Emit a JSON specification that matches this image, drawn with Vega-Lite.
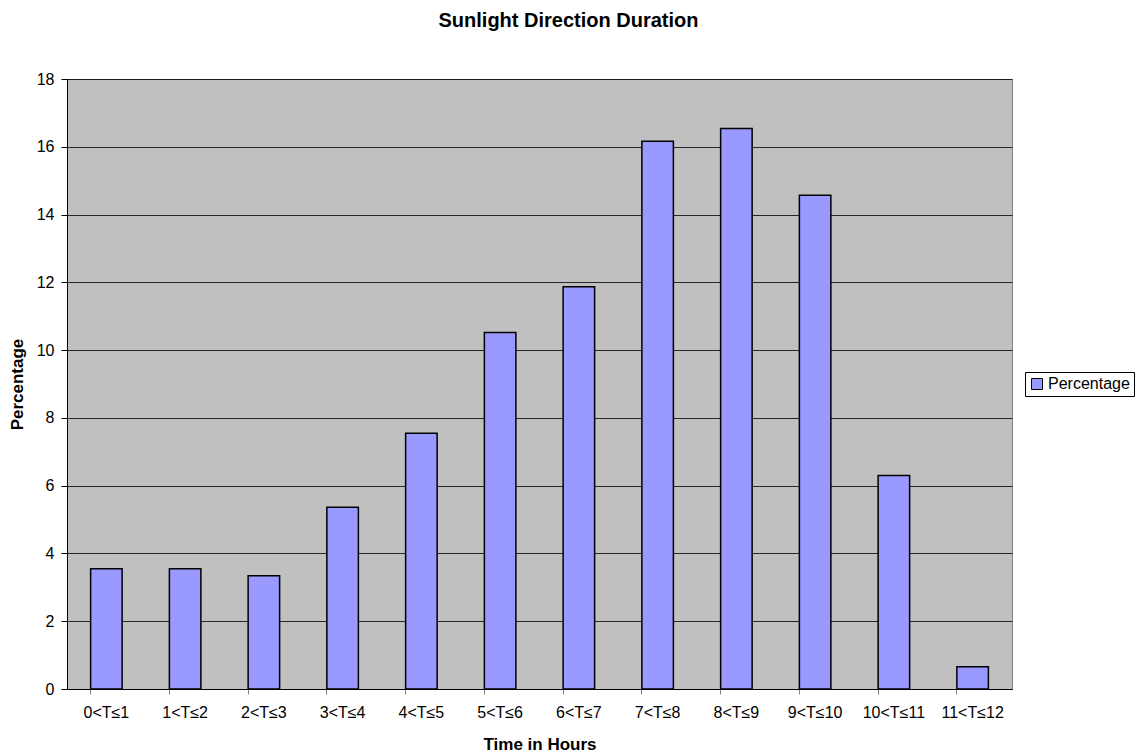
{
  "$schema": "https://vega.github.io/schema/vega-lite/v6.json",
  "autosize": {"type": "none"},
  "padding": {"left": 67, "top": 79, "right": 133, "bottom": 64},
  "width": 945,
  "height": 610,
  "background": "white",
  "title": {"text": "Sunlight Direction Duration", "font": "Liberation Sans", "fontSize": 20, "fontWeight": "bold", "color": "black", "anchor": "middle", "frame": "group", "dx": 29, "baseline": "alphabetic", "offset": 24},
  "config": {
    "view": {"fill": "#C0C0C0", "stroke": "#808080", "strokeWidth": 1},
    "font": "Liberation Sans"
  },
  "data": {"values": [
    {"bin": "0<T≤1", "pct": 3.55},
    {"bin": "1<T≤2", "pct": 3.55},
    {"bin": "2<T≤3", "pct": 3.34},
    {"bin": "3<T≤4", "pct": 5.36},
    {"bin": "4<T≤5", "pct": 7.55},
    {"bin": "5<T≤6", "pct": 10.52},
    {"bin": "6<T≤7", "pct": 11.87},
    {"bin": "7<T≤8", "pct": 16.16},
    {"bin": "8<T≤9", "pct": 16.54},
    {"bin": "9<T≤10", "pct": 14.57},
    {"bin": "10<T≤11", "pct": 6.3},
    {"bin": "11<T≤12", "pct": 0.66}
  ]},
  "mark": {"type": "bar", "stroke": "black", "strokeWidth": 1.5},
  "encoding": {
    "x": {"field": "bin", "type": "nominal", "sort": null,
      "scale": {"paddingInner": 0.6, "paddingOuter": 0.3},
      "axis": {"title": "Time in Hours", "titleFont": "Liberation Sans", "titleFontSize": 17, "titleFontWeight": "bold", "titleColor": "black", "titlePadding": 16,
        "labelAngle": 0, "labelFont": "Liberation Sans", "labelFontSize": 16, "labelColor": "black", "labelPadding": 10,
        "bandPosition": 0, "tickColor": "#808080", "tickSize": 5, "domainColor": "black", "grid": false}},
    "y": {"field": "pct", "type": "quantitative",
      "scale": {"domain": [0, 18], "nice": false},
      "axis": {"title": "Percentage", "titleFont": "Liberation Sans", "titleFontSize": 17, "titleFontWeight": "bold", "titleColor": "black", "titlePadding": 10,
        "values": [0, 2, 4, 6, 8, 10, 12, 14, 16, 18], "labelFont": "Liberation Sans", "labelFontSize": 16, "labelColor": "black", "labelPadding": 7,
        "tickColor": "black", "tickSize": 6, "domainColor": "black", "grid": true, "gridColor": "#000000", "gridOpacity": 0.8, "gridWidth": 1}},
    "color": {"datum": "Percentage", "type": "nominal",
      "scale": {"range": ["#9999FF"]},
      "legend": {"title": null, "orient": "none", "legendX": 958, "legendY": 293,
        "strokeColor": "black", "padding": 4, "symbolType": "square", "symbolStrokeColor": "black", "symbolStrokeWidth": 1, "symbolSize": 121,
        "labelFont": "Liberation Sans", "labelFontSize": 16, "labelColor": "black", "labelOffset": 3}}
  }
}
